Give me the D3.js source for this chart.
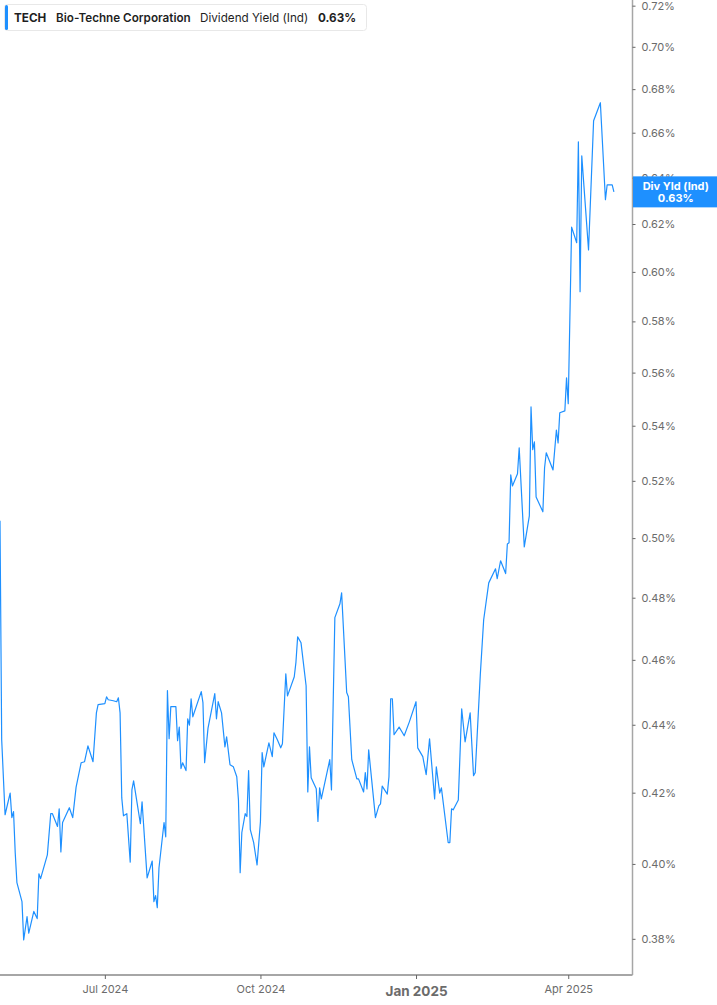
<!DOCTYPE html>
<html>
<head>
<meta charset="utf-8">
<script src="https://cdn.jsdelivr.net/npm/d3@7"></script>
<style>
  html, body { margin: 0; padding: 0; background: #fff; }
  svg { display: block; font-family: Inter, "Noto Sans", sans-serif; }
</style>
</head>
<body>
<div id="chart"></div>
<script>
// dividend yield (ind), in percent
var dates = [
  "2024-04-30","2024-05-01","2024-05-03","2024-05-06","2024-05-07","2024-05-08","2024-05-09","2024-05-10",
  "2024-05-13","2024-05-14","2024-05-16","2024-05-17","2024-05-20","2024-05-22","2024-05-23","2024-05-24",
  "2024-05-28","2024-05-30","2024-05-31","2024-06-03","2024-06-04","2024-06-05","2024-06-06","2024-06-10",
  "2024-06-12","2024-06-14","2024-06-17","2024-06-19","2024-06-21","2024-06-24","2024-06-26","2024-06-27",
  "2024-07-01","2024-07-02","2024-07-03","2024-07-06","2024-07-08","2024-07-09","2024-07-10","2024-07-11",
  "2024-07-12","2024-07-14","2024-07-16","2024-07-17","2024-07-18","2024-07-22","2024-07-23","2024-07-26",
  "2024-07-29","2024-07-30","2024-07-31","2024-08-01","2024-08-02","2024-08-05","2024-08-06","2024-08-07",
  "2024-08-08","2024-08-09","2024-08-12","2024-08-13","2024-08-14","2024-08-15","2024-08-16","2024-08-18",
  "2024-08-19","2024-08-20","2024-08-21","2024-08-22","2024-08-27","2024-08-28","2024-08-29","2024-08-31",
  "2024-09-04","2024-09-05","2024-09-06","2024-09-08","2024-09-10","2024-09-11","2024-09-13","2024-09-15",
  "2024-09-17","2024-09-18","2024-09-19","2024-09-20","2024-09-22","2024-09-23","2024-09-24","2024-09-25",
  "2024-09-27","2024-09-29","2024-10-01","2024-10-02","2024-10-03","2024-10-06","2024-10-08","2024-10-09",
  "2024-10-11","2024-10-13","2024-10-14","2024-10-16","2024-10-17","2024-10-21","2024-10-22","2024-10-23",
  "2024-10-25","2024-10-28","2024-10-29","2024-10-30","2024-10-31","2024-11-03","2024-11-04","2024-11-05",
  "2024-11-06","2024-11-11","2024-11-12","2024-11-14","2024-11-17","2024-11-18","2024-11-21","2024-11-22",
  "2024-11-24","2024-11-27","2024-11-28","2024-12-01","2024-12-02","2024-12-03","2024-12-04","2024-12-08",
  "2024-12-10","2024-12-11","2024-12-12","2024-12-15","2024-12-16","2024-12-17","2024-12-18","2024-12-19",
  "2024-12-22","2024-12-24","2024-12-25","2024-12-28","2025-01-01","2025-01-02","2025-01-05","2025-01-07",
  "2025-01-09","2025-01-12","2025-01-13","2025-01-15","2025-01-16","2025-01-20","2025-01-21","2025-01-22",
  "2025-01-23","2025-01-26","2025-01-28","2025-01-30","2025-02-02","2025-02-04","2025-02-05","2025-02-08",
  "2025-02-10","2025-02-13","2025-02-17","2025-02-18","2025-02-20","2025-02-23","2025-02-24","2025-02-25",
  "2025-02-26","2025-02-27","2025-03-02","2025-03-03","2025-03-06","2025-03-09","2025-03-10","2025-03-11",
  "2025-03-12","2025-03-13","2025-03-17","2025-03-18","2025-03-19","2025-03-23","2025-03-25","2025-03-26",
  "2025-03-27","2025-03-30","2025-03-31","2025-04-01","2025-04-03","2025-04-06","2025-04-07","2025-04-08",
  "2025-04-09","2025-04-13","2025-04-16","2025-04-20","2025-04-23","2025-04-24","2025-04-27","2025-04-28"
];

var yields = [
  0.5060,0.4355,0.4137,0.4199,0.4129,0.4146,0.4031,0.3949,
  0.3898,0.3797,0.3858,0.3815,0.3872,0.3853,0.3973,0.3960,
  0.4025,0.4140,0.4140,0.4104,0.4154,0.4033,0.4115,0.4157,
  0.4129,0.4216,0.4287,0.4290,0.4337,0.4290,0.4436,0.4461,
  0.4464,0.4485,0.4476,0.4473,0.4470,0.4482,0.4436,0.4185,
  0.4134,0.4140,0.4005,0.4208,0.4234,0.4112,0.4174,0.3962,
  0.4008,0.3898,0.3914,0.3882,0.3989,0.4115,0.4075,0.4504,
  0.4358,0.4455,0.4455,0.4352,0.4393,0.4270,0.4287,0.4264,
  0.4418,0.4399,0.4479,0.4424,0.4501,0.4467,0.4287,0.4390,
  0.4495,0.4418,0.4470,0.4436,0.4334,0.4364,0.4281,0.4275,
  0.4246,0.4179,0.3976,0.4087,0.4140,0.4132,0.4264,0.4095,
  0.4059,0.3997,0.4118,0.4317,0.4275,0.4346,0.4305,0.4376,
  0.4355,0.4331,0.4343,0.4556,0.4488,0.4547,0.4593,0.4673,
  0.4654,0.4519,0.4202,0.4334,0.4243,0.4211,0.4118,0.4214,
  0.4182,0.4296,0.4208,0.4735,0.4780,0.4816,0.4498,0.4485,
  0.4296,0.4240,0.4240,0.4202,0.4258,0.4211,0.4325,0.4129,
  0.4162,0.4168,0.4219,0.4196,0.4246,0.4479,0.4479,0.4370,
  0.4393,0.4376,0.4367,0.4408,0.4470,0.4331,0.4305,0.4252,
  0.4358,0.4182,0.4275,0.4199,0.4214,0.4059,0.4059,0.4154,
  0.4151,0.4179,0.4448,0.4349,0.4436,0.4249,0.4258,0.4553,
  0.4728,0.4849,0.4896,0.4863,0.4923,0.4880,0.4980,0.4984,
  0.5221,0.5182,0.5225,0.5319,0.4970,0.5077,0.5470,0.5312,
  0.5341,0.5143,0.5091,0.5246,0.5301,0.5239,0.5384,0.5337,
  0.5448,0.5455,0.5580,0.5482,0.6187,0.6121,0.6559,0.5919,
  0.6496,0.6091,0.6654,0.6737,0.6304,0.6368,0.6368,0.6338
];

var yTicks = [0.38, 0.40, 0.42, 0.44, 0.46, 0.48, 0.50, 0.52, 0.54,
              0.56, 0.58, 0.60, 0.62, 0.64, 0.66, 0.68, 0.70, 0.72];
var xTicks = ["2024-07-01", "2024-10-01", "2025-01-01", "2025-04-01"];
var xTickLabels = ["Jul 2024", "Oct 2024", "Jan 2025", "Apr 2025"];

var ticker = "TECH";
var company = "Bio-Techne Corporation";
var metric = "Dividend Yield (Ind)";
var tagName = "Div Yld (Ind)";

var width = 717,
    height = 1005,
    plotRight = 632.5,
    plotBottom = 975,
    blue = "#1e90ff";

var parse = d3.timeParse("%Y-%m-%d");
var fmtPct = function(v) { return d3.format(".2f")(v) + "%"; };

var data = dates.map(function(d, i) {
    return { date: parse(d), value: yields[i] };
});
var last = data[data.length - 1];

var x = d3.scaleTime()
    .domain([parse("2024-04-30"), parse("2025-05-09")])
    .range([0, plotRight]);

var y = d3.scaleLog()
    .domain([0.3707, 0.7228])
    .range([plotBottom, 0]);

var svg = d3.select("#chart")
    .append("svg")
    .attr("width", width)
    .attr("height", height);

// right axis
var yAxis = svg.append("g")
    .attr("transform", "translate(" + plotRight + ",0)")
    .call(d3.axisRight(y)
        .tickValues(yTicks)
        .tickSize(3)
        .tickPadding(6)
        .tickFormat(fmtPct));
yAxis.select(".domain")
    .attr("stroke", "#a6a6a6")
    .attr("stroke-width", 1.5)
    .attr("d", "M0,0V" + plotBottom);
yAxis.selectAll(".tick line").attr("stroke", "#666");
yAxis.selectAll(".tick text")
    .attr("fill", "#6b6b6b")
    .style("font-size", "11px")
    .style("font-family", "Inter, sans-serif");

// bottom axis
var xAxis = svg.append("g")
    .attr("transform", "translate(0," + plotBottom + ")")
    .call(d3.axisBottom(x)
        .tickValues(xTicks.map(parse))
        .tickSize(4)
        .tickPadding(6)
        .tickFormat(function(d, i) { return xTickLabels[i]; }));
xAxis.select(".domain")
    .attr("stroke", "#a6a6a6")
    .attr("stroke-width", 2)
    .attr("d", "M0,0H" + plotRight);
xAxis.selectAll(".tick line").attr("stroke", "#666");
xAxis.selectAll(".tick text")
    .attr("fill", "#6b6b6b")
    .style("font-size", function(d, i) { return i == 2 ? "13.5px" : "11px"; })
    .style("font-weight", function(d, i) { return i == 2 ? "700" : "400"; })
    .attr("dy", function(d, i) { return i == 2 ? "0.8em" : "0.71em"; })
    .style("font-family", "Inter, sans-serif");

// the yield line
var line = d3.line()
    .x(function(d) { return x(d.date); })
    .y(function(d) { return y(d.value); });

svg.append("path")
    .datum(data)
    .attr("fill", "none")
    .attr("stroke", blue)
    .attr("stroke-width", 1.2)
    .attr("stroke-linejoin", "round")
    .attr("d", line);

// last value tag on the right axis, drawn over the tick label it hides
var tagY = y(last.value);
svg.append("rect")
    .attr("x", plotRight + 0.5)
    .attr("y", tagY - 15.5)
    .attr("width", width - plotRight)
    .attr("height", 31)
    .attr("fill", blue);
svg.append("text")
    .attr("x", (plotRight + width) / 2 + 1)
    .attr("y", tagY - 2)
    .attr("text-anchor", "middle")
    .attr("fill", "#fff")
    .style("font-size", "11px")
    .style("font-weight", "700")
    .text(tagName);
svg.append("text")
    .attr("x", (plotRight + width) / 2 + 1)
    .attr("y", tagY + 10)
    .attr("text-anchor", "middle")
    .attr("fill", "#fff")
    .style("font-size", "11px")
    .style("font-weight", "700")
    .text(fmtPct(last.value));

// legend box
var legend = svg.append("g").attr("transform", "translate(4.5,4.5)");
legend.append("rect")
    .attr("width", 362)
    .attr("height", 26)
    .attr("rx", 3)
    .attr("fill", "#fff")
    .attr("stroke", "#e8e8e8");
legend.append("rect")
    .attr("x", 0.5)
    .attr("y", 0.5)
    .attr("width", 3)
    .attr("height", 25)
    .attr("rx", 1.5)
    .attr("fill", blue);

var legendParts = [
    { text: ticker, x: 9.5, weight: 700 },
    { text: company, x: 51.5, weight: 600 },
    { text: metric, x: 195.5, weight: 400 },
    { text: fmtPct(last.value), x: 313.5, weight: 700 }
];
legend.selectAll("text.part")
    .data(legendParts)
    .enter().append("text")
    .attr("class", "part")
    .attr("x", function(d) { return d.x; })
    .attr("y", 17)
    .attr("fill", "#1f1f1f")
    .style("font-size", "11.7px")
    .style("font-weight", function(d) { return d.weight; })
    .text(function(d) { return d.text; });
</script>
</body>
</html>
